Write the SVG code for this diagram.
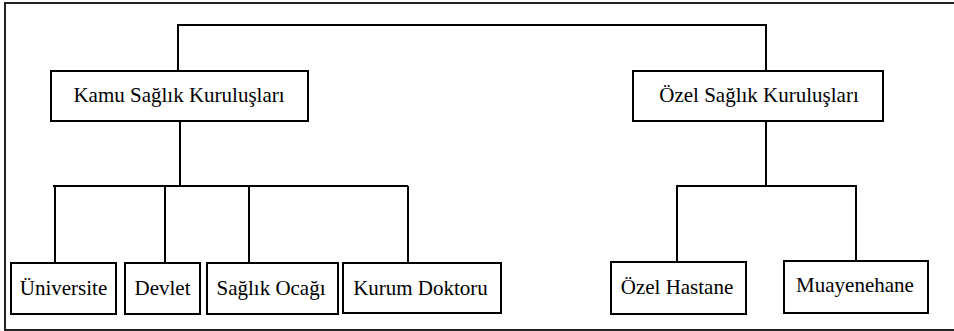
<svg xmlns="http://www.w3.org/2000/svg" width="954" height="331" viewBox="0 0 954 331">
<style>
.box{fill:#fff;stroke:#000;stroke-width:2}
.lbl{font-family:'Liberation Serif','Times New Roman',serif;font-size:21px;fill:#000;text-anchor:middle}
.conn{fill:none;stroke:#000;stroke-width:2}
.frame{fill:none;stroke:#222;stroke-width:2}
</style>
<rect width="954" height="331" fill="#fff"/>
<path class="frame" d="M960,3 H5 V330 H960"/>
<g id="connectors">
<path class="conn" d="M178,71 V25 H766 V71"/>
<path class="conn" d="M180,121 V186"/>
<path class="conn" d="M53,186 H408"/>
<path class="conn" d="M55,186 V263 M165,186 V263 M249,186 V263 M408,186 V263"/>
<path class="conn" d="M766,121 V186"/>
<path class="conn" d="M676,186 H857"/>
<path class="conn" d="M677,186 V262 M856,186 V261"/>
</g>
<g id="kamu"><rect class="box" x="51" y="71" width="257" height="50"/><text class="lbl" x="179" y="102">Kamu Sağlık Kuruluşları</text></g>
<g id="ozel"><rect class="box" x="633" y="71" width="250" height="50"/><text class="lbl" x="759" y="102">Özel Sağlık Kuruluşları</text></g>
<g id="universite"><rect class="box" x="11" y="263" width="105" height="51"/><text class="lbl" x="63.5" y="295">Üniversite</text></g>
<g id="devlet"><rect class="box" x="125" y="263" width="75" height="51"/><text class="lbl" x="162.5" y="295">Devlet</text></g>
<g id="saglik-ocagi"><rect class="box" x="207" y="263" width="131" height="51"/><text class="lbl" x="271" y="295">Sağlık Ocağı</text></g>
<g id="kurum-doktoru"><rect class="box" x="343" y="263" width="158" height="50"/><text class="lbl" x="420.5" y="295">Kurum Doktoru</text></g>
<g id="ozel-hastane"><rect class="box" x="611" y="262" width="135" height="52"/><text class="lbl" x="677" y="294">Özel Hastane</text></g>
<g id="muayenehane"><rect class="box" x="784" y="261" width="144" height="52"/><text class="lbl" x="855" y="292">Muayenehane</text></g>
</svg>
